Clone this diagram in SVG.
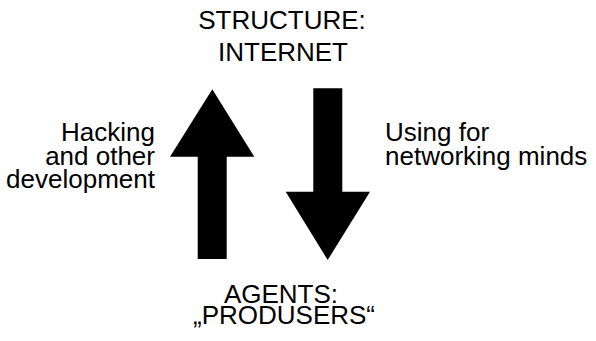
<svg xmlns="http://www.w3.org/2000/svg" width="596" height="341" viewBox="0 0 596 341">
<style>
text{font-family:"Liberation Sans",Arial,sans-serif;font-size:26px;fill:#000}
.c{text-anchor:middle}
.r{text-anchor:end}
.arrow{fill:#000}
</style>
<rect width="596" height="341" fill="#fff"/>
<g id="structure"><text class="c" x="282" y="29">STRUCTURE:</text><text class="c" x="283" y="61">INTERNET</text></g>
<g id="agents"><text class="c" x="281" y="303">AGENTS:</text><text class="c" x="284" y="324">„PRODUSERS“</text></g>
<g id="left-label"><text class="r" x="155" y="141">Hacking</text><text class="r" x="155" y="165">and other</text><text class="r" x="155" y="188">development</text></g>
<g id="right-label"><text x="385" y="141">Using for</text><text x="385" y="165">networking minds</text></g>
<g id="connectors">
<polygon class="arrow" points="212.3,89.3 254.3,156.7 226.7,156.7 226.7,259 197.7,259 197.7,156.7 170,156.7"/>
<polygon class="arrow" points="313.3,88.3 342.3,88.3 342.3,191.7 370,191.7 327.7,260 285.7,191.7 313.3,191.7"/>
</g>
</svg>
